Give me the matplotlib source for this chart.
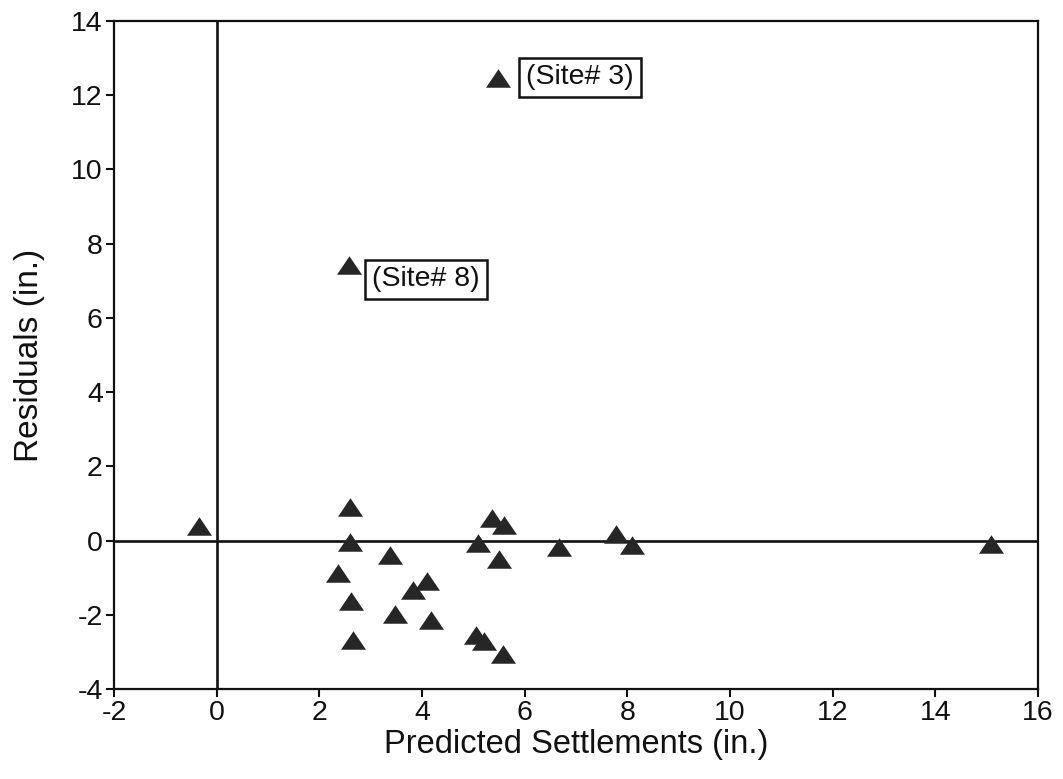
import matplotlib
matplotlib.use("Agg")
import matplotlib.pyplot as plt

plt.rcParams['font.family'] = ['Liberation Sans', 'DejaVu Sans']
plt.rcParams['axes.unicode_minus'] = False

# Data
pred = [-0.34, 2.59, 2.59, 3.38, 2.36, 2.62, 2.65, 3.48, 3.82, 4.10, 4.17,
        5.36, 5.59, 5.10, 5.50, 5.06, 5.20, 5.57, 6.66, 7.77, 8.09, 15.08,
        5.49, 2.57]
resid = [0.39, 0.90, -0.05, -0.40, -0.87, -1.62, -2.67, -1.98, -1.32, -1.10, -2.15,
         0.61, 0.41, -0.07, -0.49, -2.55, -2.70, -3.06, -0.16, 0.19, -0.11, -0.08,
         12.46, 7.43]
labels = ["(Site# 3)", "(Site# 8)"]
label_pts = [(5.49, 12.46), (2.57, 7.43)]
xticks = [-2, 0, 2, 4, 6, 8, 10, 12, 14, 16]
yticks = [-4, -2, 0, 2, 4, 6, 8, 10, 12, 14]

fig = plt.figure(figsize=(10.63, 7.79), dpi=100)
ax = fig.add_axes([0.1072, 0.1155, 0.8693, 0.8575])

tri = [(0, 0.74), (-1, -0.74), (1, -0.74)]
ax.axhline(0, color='#111111', lw=1.9, zorder=1)
ax.axvline(0, color='#111111', lw=1.9, zorder=1)
ax.plot(pred, resid, linestyle='none', marker=tri, markersize=18,
        color='#262626', markeredgewidth=0, zorder=3)

offsets = [(20, 0.5), (17, -10.5)]
for lab, (px, py), off in zip(labels, label_pts, offsets):
    ax.annotate(lab, xy=(px, py), xytext=off, textcoords='offset points',
                ha='left', va='center', fontsize=20.5, color='#111111',
                bbox=dict(boxstyle='square,pad=0.24', fc='white', ec='#111111', lw=1.8))

ax.set_xlim(-2, 16)
ax.set_ylim(-4, 14)
ax.set_xticks(xticks)
ax.set_yticks(yticks)
ax.tick_params(direction='out', length=6, width=1.5, labelsize=20.5, colors='#111111', pad=2)
for s in ax.spines.values():
    s.set_linewidth(1.6)
    s.set_color('#111111')

ax.set_xlabel('Predicted Settlements (in.)', fontsize=23.5, color='#111111', labelpad=2)
ax.set_ylabel('Residuals (in.)', fontsize=24, color='#111111', labelpad=19)

fig.savefig('out.png', dpi=100)
